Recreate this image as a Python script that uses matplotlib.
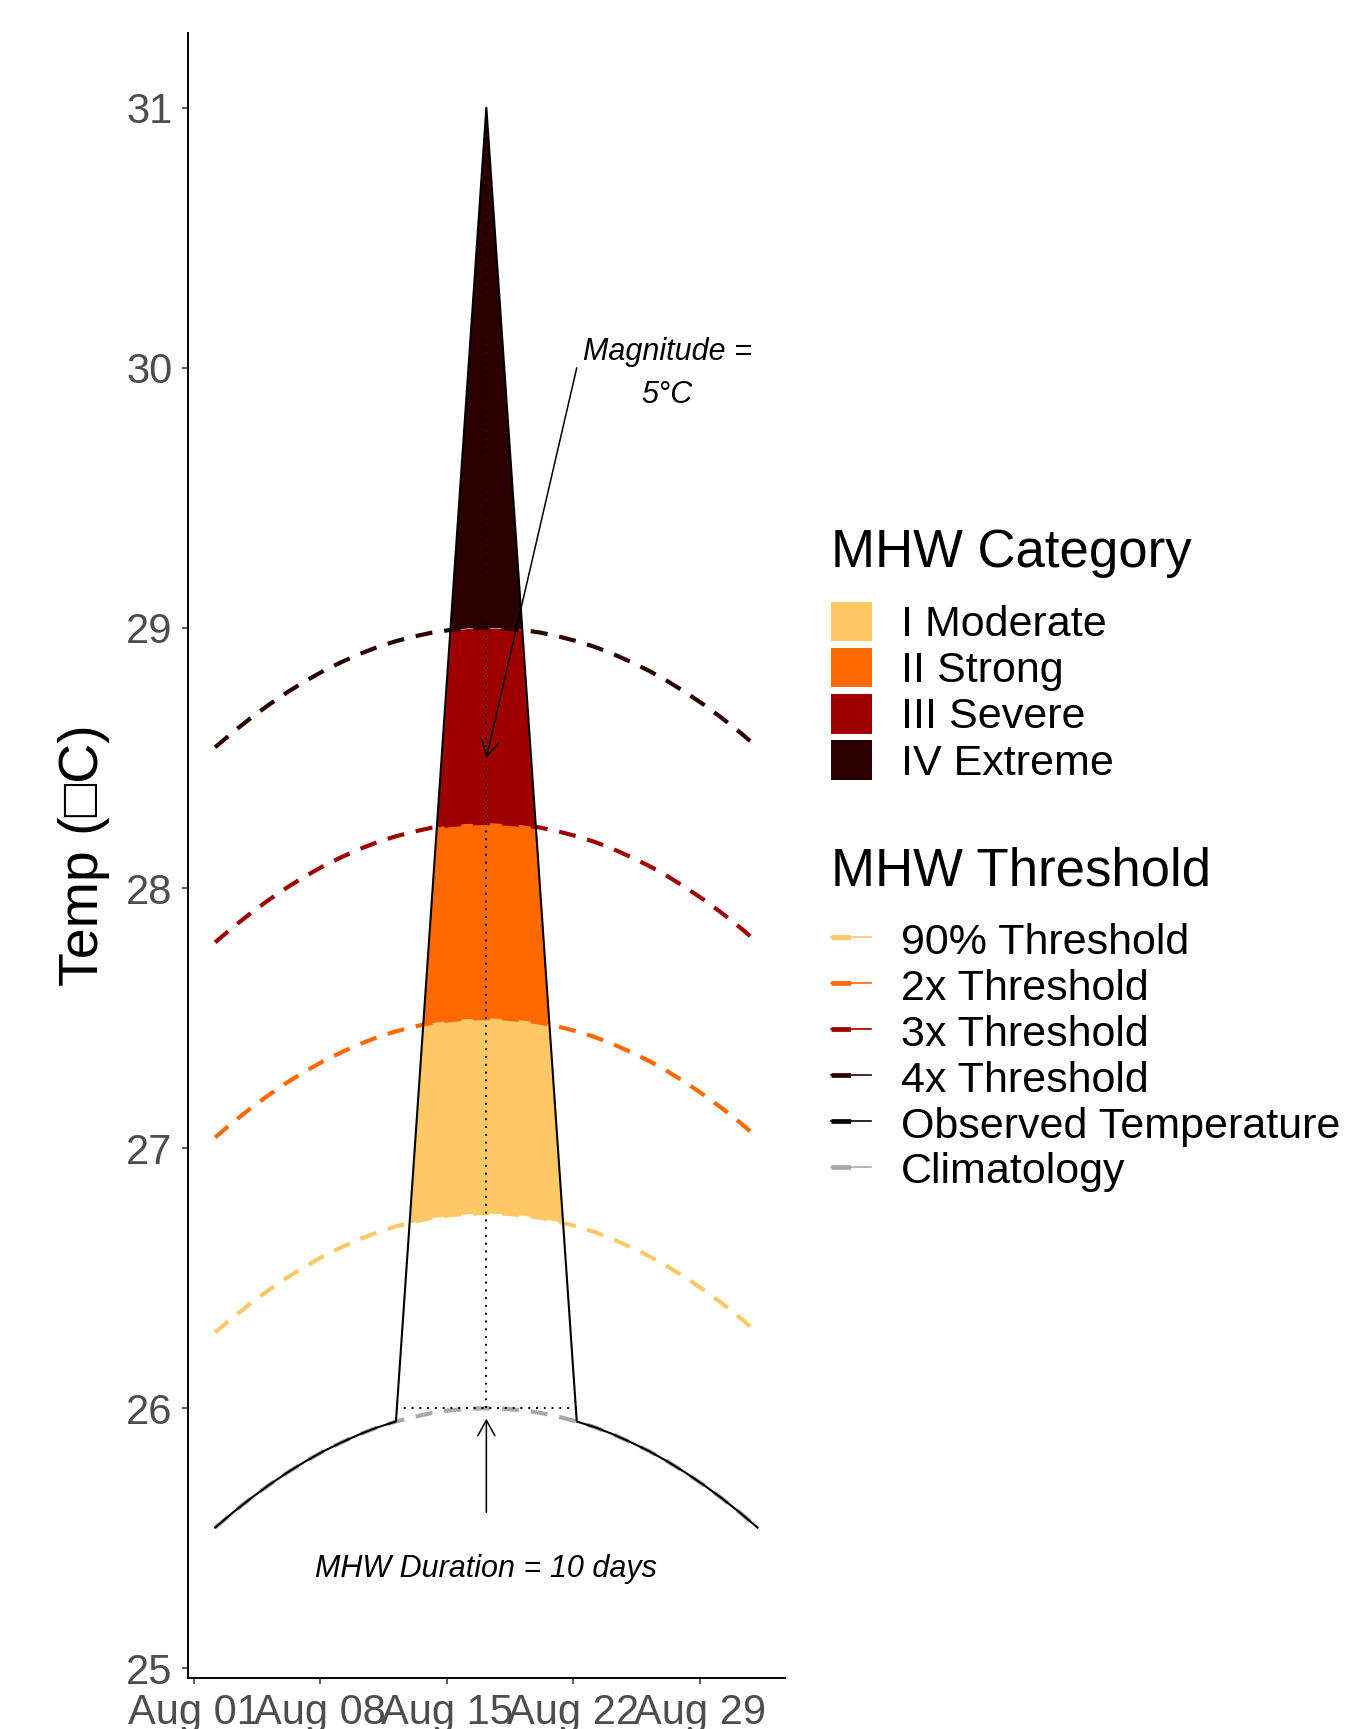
import numpy as np
import pandas as pd
import matplotlib
matplotlib.use("Agg")
import matplotlib.pyplot as plt
import matplotlib.dates as mdates
from matplotlib.patches import Polygon, Patch
from matplotlib.lines import Line2D
from matplotlib.legend_handler import HandlerTuple

# daily series, Aug 02 - Sep 01 (the R output carried a ~4.5 h tz offset)
dates = pd.date_range("2020-08-02 04:30", periods=31, freq="D")
clim = [25.541, 25.600, 25.655, 25.706, 25.753, 25.796, 25.835, 25.869, 25.900, 25.927,
        25.949, 25.967, 25.982, 25.992, 25.998, 26.000, 25.998, 25.992, 25.982, 25.967,
        25.949, 25.927, 25.900, 25.869, 25.835, 25.796, 25.753, 25.706, 25.655, 25.600,
        25.541]
thresh = [26.291, 26.350, 26.405, 26.456, 26.503, 26.546, 26.585, 26.619, 26.650, 26.677,
          26.699, 26.717, 26.732, 26.742, 26.748, 26.750, 26.748, 26.742, 26.732, 26.717,
          26.699, 26.677, 26.650, 26.619, 26.585, 26.546, 26.503, 26.456, 26.405, 26.350,
          26.291]
temp = [25.541, 25.600, 25.655, 25.706, 25.753, 25.796, 25.835, 25.869, 25.900, 25.927,
        25.949, 26.959, 27.969, 28.980, 29.990, 31.000, 29.990, 28.980, 27.969, 26.959,
        25.949, 25.927, 25.900, 25.869, 25.835, 25.796, 25.753, 25.706, 25.655, 25.600,
        25.541]

cat_labels = ["I Moderate", "II Strong", "III Severe", "IV Extreme"]
cat_colours = ["#ffc866", "#ff6900", "#9e0000", "#2d0000"]
line_labels = ["90% Threshold", "2x Threshold", "3x Threshold", "4x Threshold",
               "Observed Temperature", "Climatology"]
line_colours = cat_colours + ["black", "darkgrey"]
x_ticks = pd.to_datetime(["2020-08-01", "2020-08-08", "2020-08-15", "2020-08-22", "2020-08-29"])
y_ticks = [25, 26, 27, 28, 29, 30, 31]

# event: onset, peak, end index
i_start, i_peak, i_end = 10, 15, 20

plt.rcParams["font.family"] = ["Liberation Sans", "DejaVu Sans"]

x = mdates.date2num(dates.to_pydatetime())
clim = np.array(clim)
thresh = np.array(thresh)
temp = np.array(temp)
diff = thresh - clim
levels = [thresh, clim + 2 * diff, clim + 3 * diff, clim + 4 * diff]

fig = plt.figure(figsize=(13.54, 17.29), dpi=100)
ax = fig.add_axes([188 / 1354, 1 - 1677.7 / 1729, (784.7 - 188) / 1354, (1677.7 - 33.3) / 1729])

# flame fills, clipped to the area under the observed temperature
clip = Polygon(np.column_stack([np.r_[x, x[::-1]], np.r_[temp, np.full(len(x), 20.0)]]),
               closed=True, transform=ax.transData)
tops = levels[1:] + [np.full(len(x), 40.0)]
for lo, hi, c in zip(levels, tops, cat_colours):
    fb = ax.fill_between(x, lo, hi, color=c, lw=0)
    fb.set_clip_path(clip)

for y, c in zip(levels, cat_colours):
    ax.plot(x, y, color=c, lw=3, dashes=(4.1, 2.85), dash_capstyle="butt")
ax.plot(x, clim, color="darkgrey", lw=3, dashes=(4.1, 2.85), dash_capstyle="butt")
ax.plot(x, temp, color="black", lw=1.5)

# duration / magnitude guides
ax.plot([x[i_start], x[i_end]], [clim[i_peak], clim[i_peak]], color="black", lw=1.4, dashes=(1, 3))
ax.plot([x[i_peak], x[i_peak]], [clim[i_peak], temp[i_peak]], color="black", lw=1.4, dashes=(1, 3))

arrow = dict(arrowstyle="->,head_length=0.4,head_width=0.22", lw=1.1, color="black",
             mutation_scale=28, shrinkA=0, shrinkB=0)
ax.annotate("", xy=(x[i_peak], 28.5), xytext=(x[i_end], 30.0), arrowprops=arrow)
ax.text(x[25], 29.979, "Magnitude =\n5°C", ha="center", va="center", style="italic",
        fontsize=22, linespacing=1.57)
ax.annotate("", xy=(x[i_peak], 25.96), xytext=(x[i_peak], 25.6), arrowprops=arrow)
ax.text(x[i_peak], 25.383, "MHW Duration = 10 days", ha="center", va="center",
        style="italic", fontsize=22)

# axes
pad = 0.05 * (x[-1] - x[0])
ax.set_xlim(x[0] - pad, x[-1] + pad)
ax.set_ylim(24.964, 31.286)
ax.set_xticks(mdates.date2num(x_ticks.to_pydatetime()))
ax.xaxis.set_major_formatter(mdates.DateFormatter("%b %d"))
ax.set_yticks(y_ticks)
ax.tick_params(labelsize=30, labelcolor="#4d4d4d", color="#333333", length=4, width=1.1, pad=7)
for s in ["top", "right"]:
    ax.spines[s].set_visible(False)
for s in ["left", "bottom"]:
    ax.spines[s].set_linewidth(1.4)
ax.set_ylabel("Temp (\u25a1C)", fontsize=40)
ax.yaxis.set_label_coords(-0.1307, 0.5)

# legends
cat_handles = [Patch(facecolor=c, edgecolor="none") for c in cat_colours]
leg1 = ax.legend(cat_handles, cat_labels, title="MHW Category", loc="upper left",
                 bbox_to_anchor=(830.7 / 1354, 0.6949), bbox_transform=fig.transFigure,
                 frameon=False, fontsize=31, title_fontsize=38, alignment="left",
                 handlelength=0.96, handleheight=1.04, handletextpad=0.68,
                 labelspacing=0.061, borderpad=0, borderaxespad=0)
leg1._legend_box.sep = 17.3
ax.add_artist(leg1)

line_handles = []
for c in line_colours:
    thick = Line2D([], [], color=c, lw=3.4, dashes=(4.15, 60), dash_capstyle="butt")
    thin = Line2D([], [], color=c, lw=1.2)
    line_handles.append((thick, thin))
leg2 = ax.legend(line_handles, line_labels, title="MHW Threshold", loc="upper left",
                 handler_map={tuple: HandlerTuple(ndivide=1)},
                 bbox_to_anchor=(830.7 / 1354, 0.5105), bbox_transform=fig.transFigure,
                 frameon=False, fontsize=31, title_fontsize=38, alignment="left",
                 handlelength=0.93, handleheight=0.965, handletextpad=0.71,
                 labelspacing=0.079, borderpad=0, borderaxespad=0)
leg2._legend_box.sep = 17.1

fig.savefig("out.png", dpi=100)
